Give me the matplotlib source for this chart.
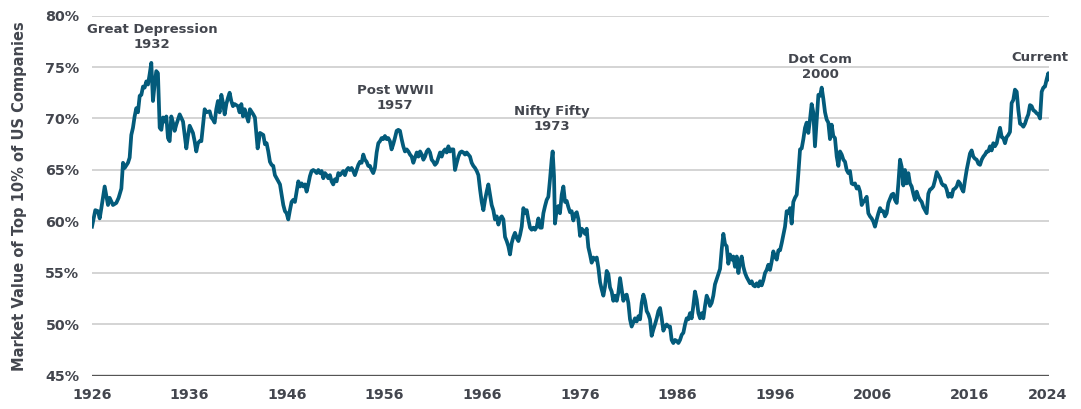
import numpy as np
import matplotlib
matplotlib.use("Agg")
import matplotlib.pyplot as plt

# share of total US market value held by the top 10% of companies (%)
yr_a = [1926.00, 1926.34, 1926.61, 1926.79, 1926.96, 1927.30, 1927.64, 1927.81, 1928.15, 1928.49,
        1928.73, 1929.01, 1929.18, 1929.35, 1929.69, 1929.86, 1930.03, 1930.20, 1930.37, 1930.54,
        1930.71, 1930.89, 1931.06, 1931.23, 1931.40, 1931.57, 1931.74, 1931.91, 1932.08, 1932.25,
        1932.42, 1932.59, 1932.76, 1932.94, 1933.11, 1933.28, 1933.45, 1933.62, 1933.79, 1933.96,
        1934.13, 1934.30, 1934.47, 1934.64, 1934.99, 1935.33, 1935.67, 1935.84, 1936.01, 1936.35,
        1936.52, 1936.69, 1936.86, 1937.04, 1937.21, 1937.38, 1937.55, 1937.72, 1938.06, 1938.23,
        1938.40, 1938.57, 1938.74, 1938.91, 1939.08, 1939.26, 1939.43, 1939.60, 1939.77, 1939.94,
        1940.11, 1940.28, 1940.45, 1940.62, 1940.96, 1941.13, 1941.31, 1941.48, 1941.65]
val_a = [59.5, 61.1, 61.0, 60.3, 61.3, 63.4, 61.6, 62.3, 61.6, 61.8,
         62.3, 63.2, 65.7, 65.2, 65.7, 66.2, 68.4, 69.1, 70.2, 71.0,
         70.6, 72.2, 72.3, 73.1, 73.0, 73.6, 73.3, 74.3, 75.4, 71.7,
         73.3, 74.6, 74.4, 69.1, 68.9, 70.1, 69.7, 70.2, 68.1, 67.8,
         70.2, 69.6, 68.8, 69.4, 70.4, 69.7, 67.1, 68.3, 69.3, 68.6,
         67.8, 66.8, 67.6, 67.8, 67.8, 69.4, 70.9, 70.6, 70.7, 70.1,
         69.9, 69.6, 70.9, 71.7, 70.6, 72.3, 71.5, 70.4, 71.4, 72.0,
         72.5, 71.7, 71.2, 71.4, 71.2, 70.6, 71.4, 70.2, 70.9]

yr_b = [1942.02, 1942.19, 1942.53, 1942.70, 1942.98, 1943.22, 1943.56, 1943.73, 1943.90, 1944.07,
        1944.24, 1944.41, 1944.58, 1944.75, 1944.93, 1945.10, 1945.27, 1945.44, 1945.61, 1945.78,
        1945.95, 1946.12, 1946.29, 1946.46, 1946.63, 1946.80, 1946.98, 1947.15, 1947.32, 1947.49,
        1947.66, 1947.83, 1948.00, 1948.17, 1948.34, 1948.51, 1948.68, 1948.85, 1949.03, 1949.20,
        1949.37, 1949.54, 1949.71, 1949.88, 1950.05, 1950.22, 1950.39, 1950.56, 1950.73, 1950.90,
        1951.08, 1951.25, 1951.42, 1951.59, 1951.76, 1951.93, 1952.10, 1952.27, 1952.44, 1952.61,
        1952.78, 1952.95, 1953.13, 1953.30, 1953.47, 1953.64, 1953.81, 1953.98, 1954.15, 1954.32,
        1954.49, 1954.66, 1954.83, 1955.00, 1955.18, 1955.35, 1955.52, 1955.69, 1955.86, 1956.03,
        1956.20, 1956.37, 1956.54, 1956.71, 1956.88, 1957.05, 1957.23, 1957.40, 1957.57, 1957.74,
        1957.91, 1958.08]
val_b = [69.7, 70.9, 70.4, 70.1, 67.1, 68.6, 68.4, 67.5, 67.6, 66.8,
         65.8, 65.5, 65.4, 64.5, 64.2, 63.9, 63.6, 62.6, 61.6, 61.0,
         60.8, 60.2, 61.1, 61.9, 62.1, 61.9, 62.9, 63.9, 63.4, 63.7,
         63.4, 63.6, 62.9, 63.6, 64.4, 64.9, 65.0, 64.9, 64.7, 65.0,
         64.7, 64.9, 64.2, 64.7, 64.5, 64.2, 64.5, 63.9, 63.6, 64.1,
         63.9, 64.7, 64.5, 64.7, 64.9, 64.5, 65.0, 65.2, 65.0, 65.2,
         64.9, 64.5, 65.0, 65.5, 65.8, 65.7, 66.5, 66.0, 65.8, 65.4,
         65.4, 65.0, 64.7, 65.2, 66.7, 67.6, 67.8, 68.1, 68.0, 68.3,
         68.0, 68.1, 67.8, 67.0, 67.5, 68.1, 68.8, 68.9, 68.8, 68.0,
         67.3, 66.8]

yr_c = [1958.26, 1958.43, 1958.60, 1958.77, 1958.94, 1959.11, 1959.29, 1959.46, 1959.63, 1959.80,
        1959.97, 1960.14, 1960.31, 1960.48, 1960.65, 1960.82, 1960.99, 1961.16, 1961.34, 1961.51,
        1961.68, 1961.85, 1962.02, 1962.19, 1962.36, 1962.53, 1962.70, 1962.87, 1963.04, 1963.21,
        1963.39, 1963.56, 1963.73, 1963.90, 1964.07, 1964.24, 1964.41, 1964.58, 1964.75, 1964.92,
        1965.09, 1965.26, 1965.44, 1965.61, 1965.78, 1965.95, 1966.12, 1966.29, 1966.46, 1966.63,
        1966.80, 1966.97, 1967.14, 1967.31, 1967.49, 1967.66, 1967.83, 1968.00, 1968.17, 1968.34,
        1968.51, 1968.68, 1968.85, 1969.02, 1969.19, 1969.36, 1969.54, 1969.71, 1969.88, 1970.05,
        1970.22, 1970.39, 1970.56, 1970.73, 1970.90, 1971.07, 1971.24, 1971.41, 1971.59, 1971.76,
        1971.93, 1972.10, 1972.27, 1972.44, 1972.61, 1972.78, 1972.95, 1973.12, 1973.22, 1973.36,
        1973.46, 1973.63, 1973.80, 1973.97, 1974.15, 1974.32, 1974.49]
val_c = [67.0, 66.8, 66.5, 66.3, 65.7, 66.2, 66.7, 66.3, 66.8, 66.5,
         66.0, 66.3, 66.8, 67.0, 66.7, 66.0, 65.8, 65.5, 65.7, 66.2,
         66.7, 66.3, 66.8, 67.0, 66.7, 67.3, 66.8, 67.0, 67.0, 65.0,
         65.7, 66.3, 66.7, 66.8, 66.7, 66.5, 66.7, 66.5, 66.3, 65.7,
         65.4, 65.2, 64.9, 64.5, 63.1, 61.9, 61.1, 62.1, 62.9, 63.6,
         62.6, 61.6, 61.1, 60.2, 60.5, 59.7, 60.3, 60.5, 60.2, 58.5,
         58.1, 57.6, 56.8, 57.9, 58.5, 58.9, 58.4, 58.1, 58.7, 59.5,
         61.3, 60.8, 61.1, 60.2, 59.4, 59.2, 59.4, 59.2, 59.5, 60.3,
         59.4, 59.4, 60.8, 61.5, 62.1, 62.4, 64.1, 66.0, 66.8, 64.4,
         59.8, 61.1, 61.5, 60.8, 62.6, 63.4, 61.9]

yr_d = [1974.66, 1974.83, 1975.00, 1975.17, 1975.34, 1975.51, 1975.69, 1975.86, 1976.03, 1976.20,
        1976.37, 1976.54, 1976.71, 1976.88, 1977.05, 1977.22, 1977.39, 1977.56, 1977.74, 1977.91,
        1978.08, 1978.25, 1978.42, 1978.59, 1978.76, 1978.93, 1979.10, 1979.27, 1979.44, 1979.61,
        1979.79, 1979.96, 1980.13, 1980.30, 1980.47, 1980.64, 1980.81, 1980.98, 1981.15, 1981.32,
        1981.49, 1981.66, 1981.84, 1982.01, 1982.18, 1982.35, 1982.52, 1982.69, 1982.86, 1983.03,
        1983.20, 1983.37, 1983.54, 1983.71, 1983.89, 1984.06, 1984.23, 1984.40, 1984.57, 1984.74,
        1984.91, 1985.08, 1985.25, 1985.42, 1985.59, 1985.76, 1985.94, 1986.11, 1986.28, 1986.45,
        1986.62, 1986.79, 1986.96, 1987.13, 1987.30, 1987.47, 1987.64, 1987.81, 1987.99, 1988.16,
        1988.33, 1988.50, 1988.67, 1988.84, 1989.01, 1989.18, 1989.35, 1989.52, 1989.69, 1989.86,
        1990.04, 1990.21, 1990.38, 1990.55, 1990.72, 1990.89]
val_d = [62.0, 61.4, 60.9, 61.0, 60.1, 60.7, 60.9, 60.2, 58.6, 59.3,
         59.1, 58.8, 59.3, 57.5, 56.8, 56.0, 56.5, 56.3, 56.5, 55.5,
         54.1, 53.4, 52.8, 53.7, 55.2, 54.9, 53.6, 53.2, 52.3, 52.8,
         52.3, 53.1, 54.5, 53.4, 52.3, 52.8, 52.9, 52.1, 50.5, 49.8,
         50.2, 50.6, 50.3, 50.8, 50.5, 52.1, 52.9, 52.3, 51.3, 51.0,
         50.5, 48.9, 49.5, 50.0, 50.6, 51.3, 51.6, 50.6, 49.4, 49.8,
         50.0, 49.8, 49.8, 48.5, 48.2, 48.5, 48.4, 48.2, 48.5, 49.0,
         49.2, 50.0, 50.6, 50.5, 51.1, 50.6, 51.8, 53.2, 52.4, 51.1,
         50.6, 51.1, 50.6, 51.8, 52.8, 52.4, 51.8, 52.1, 52.8, 53.9,
         54.4, 54.9, 55.4, 57.3, 58.8, 57.8]

yr_e = [1991.06, 1991.23, 1991.40, 1991.57, 1991.74, 1991.91, 1992.09, 1992.26, 1992.43, 1992.60,
        1992.77, 1992.94, 1993.11, 1993.28, 1993.45, 1993.62, 1993.79, 1993.96, 1994.14, 1994.31,
        1994.48, 1994.65, 1994.82, 1994.99, 1995.16, 1995.33, 1995.50, 1995.67, 1995.84, 1996.01,
        1996.19, 1996.36, 1996.53, 1996.70, 1996.87, 1997.04, 1997.21, 1997.38, 1997.55, 1997.72,
        1997.89, 1998.06, 1998.24, 1998.41, 1998.58, 1998.75, 1998.92, 1999.09, 1999.26, 1999.43,
        1999.60, 1999.77, 1999.94, 2000.11, 2000.28, 2000.46, 2000.63, 2000.80, 2000.97, 2001.14,
        2001.31, 2001.48, 2001.65, 2001.82, 2001.99, 2002.16, 2002.34, 2002.51, 2002.68, 2002.85,
        2003.02, 2003.19, 2003.36, 2003.53, 2003.70, 2003.87, 2004.04, 2004.21, 2004.39, 2004.56,
        2004.73, 2004.90, 2005.07, 2005.24, 2005.41, 2005.58, 2005.75, 2005.92, 2006.09, 2006.26,
        2006.44, 2006.61, 2006.78, 2006.95, 2007.12, 2007.29]
val_e = [57.6, 55.9, 56.8, 56.3, 56.6, 55.6, 56.6, 55.0, 56.1, 56.6,
         55.6, 55.0, 54.6, 54.3, 54.0, 54.2, 53.8, 53.7, 54.0, 53.7,
         54.2, 53.8, 54.3, 55.0, 55.3, 55.8, 55.3, 56.1, 57.1, 56.6,
         56.3, 57.2, 57.2, 57.9, 58.7, 59.5, 61.0, 60.8, 61.3, 59.8,
         61.9, 62.3, 62.6, 64.7, 67.0, 67.1, 68.0, 69.1, 69.6, 68.6,
         69.9, 71.4, 70.6, 67.3, 69.7, 72.3, 72.2, 73.0, 71.9, 70.6,
         69.9, 69.6, 68.0, 69.4, 68.3, 68.1, 66.3, 65.4, 66.8, 66.5,
         66.0, 65.8, 65.0, 64.7, 64.9, 63.7, 63.6, 63.7, 63.2, 63.4,
         62.9, 61.6, 61.9, 62.1, 62.4, 60.8, 60.5, 60.3, 60.0, 59.5,
         60.2, 60.8, 61.3, 61.0, 61.0, 60.5]

yr_f = [2007.46, 2007.63, 2007.80, 2007.97, 2008.14, 2008.31, 2008.49, 2008.66, 2008.83, 2009.00,
        2009.17, 2009.34, 2009.51, 2009.68, 2009.85, 2010.02, 2010.19, 2010.36, 2010.54, 2010.71,
        2010.88, 2011.05, 2011.22, 2011.39, 2011.56, 2011.73, 2011.90, 2012.07, 2012.24, 2012.41,
        2012.59, 2012.76, 2012.93, 2013.10, 2013.27, 2013.44, 2013.61, 2013.78, 2013.95, 2014.12,
        2014.29, 2014.46, 2014.64, 2014.81, 2014.98, 2015.15, 2015.32, 2015.49, 2015.66, 2015.83,
        2016.00, 2016.17, 2016.34, 2016.51, 2016.69, 2016.86, 2017.03, 2017.20, 2017.37, 2017.54,
        2017.71, 2017.88, 2018.05, 2018.22, 2018.39, 2018.56, 2018.74, 2018.91, 2019.08, 2019.25,
        2019.42, 2019.59, 2019.76, 2019.93, 2020.10, 2020.27, 2020.44, 2020.61, 2020.79, 2020.96,
        2021.13, 2021.30, 2021.47, 2021.64, 2021.81, 2021.98, 2022.15, 2022.32, 2022.49, 2022.66,
        2022.84, 2023.01, 2023.18, 2023.35, 2023.52, 2023.69, 2023.86, 2024.03, 2024.13]
val_f = [60.8, 61.8, 62.2, 62.6, 62.7, 62.1, 61.8, 63.7, 66.0, 65.3,
         63.5, 65.0, 63.7, 64.7, 63.7, 63.4, 62.7, 62.1, 62.9, 62.4,
         62.1, 61.9, 61.4, 61.1, 60.8, 62.7, 63.1, 63.2, 63.4, 64.0,
         64.8, 64.5, 64.2, 63.7, 63.5, 63.5, 63.1, 62.4, 62.7, 62.4,
         63.1, 63.2, 63.4, 63.9, 63.7, 63.2, 62.9, 64.0, 65.0, 65.8,
         66.6, 66.9, 66.3, 66.1, 66.0, 65.6, 65.5, 66.0, 66.3, 66.5,
         66.8, 66.8, 67.3, 66.9, 67.6, 67.3, 67.6, 68.4, 69.1, 68.2,
         68.1, 67.6, 68.2, 68.4, 68.7, 71.5, 71.8, 72.8, 72.6, 70.8,
         69.5, 69.4, 69.2, 69.5, 70.0, 70.4, 71.3, 71.2, 70.8, 70.7,
         70.5, 70.4, 70.0, 72.6, 73.0, 73.1, 73.8, 74.4, 73.8]

tick_years = [1926, 1936, 1946, 1956, 1966, 1976, 1986, 1996, 2006, 2016, 2024]
tick_pcts = [45, 50, 55, 60, 65, 70, 75, 80]

events = ["Great Depression\n1932", "Post WWII\n1957", "Nifty Fifty\n1973", "Dot Com\n2000", "Current"]
event_x = [1932.15, 1957.06, 1973.16, 2000.63, 2023.16]
event_y = [77.95, 71.95, 69.97, 75.03, 75.94]

LINE = "#035b7b"
TXT = "#43464e"

years = np.concatenate([yr_a, yr_b, yr_c, yr_d, yr_e, yr_f])
share = np.concatenate([val_a, val_b, val_c, val_d, val_e, val_f])

fig = plt.figure(figsize=(10.81, 4.09), dpi=100)
ax = fig.add_axes([0.0851, 0.0807, 0.8853, 0.8814])

for p in tick_pcts[1:]:
    ax.axhline(p, color="#c9c9c9", lw=1.1, zorder=1)
ax.axhline(45, color="#555555", lw=2.4, zorder=3)

ax.plot(years, share, color=LINE, lw=2.7, solid_joinstyle="round", zorder=4)

for label, x, y in zip(events, event_x, event_y):
    ax.text(x, y, label, ha="center", va="center", fontsize=9.5, fontweight="bold",
            color=TXT, linespacing=1.2, zorder=5)

ax.set_xlim(1926, 2024.1)
ax.set_ylim(45, 80)
ax.set_xticks(tick_years)
ax.set_xticklabels([str(t) for t in tick_years])
ax.set_yticks(tick_pcts)
ax.set_yticklabels([f"{p}%" for p in tick_pcts])
ax.tick_params(axis="both", length=0, labelsize=10.3, labelcolor=TXT)
ax.tick_params(axis="y", pad=9)
ax.tick_params(axis="x", pad=9)
for lab in ax.get_xticklabels() + ax.get_yticklabels():
    lab.set_fontweight("bold")
for s in ax.spines.values():
    s.set_visible(False)

ax.set_ylabel("Market Value of Top 10% of US Companies", fontsize=10.5, fontweight="bold",
              color=TXT, labelpad=8)
ax.yaxis.set_label_coords(-0.068, 0.5)

fig.savefig("out.png", dpi=100)
